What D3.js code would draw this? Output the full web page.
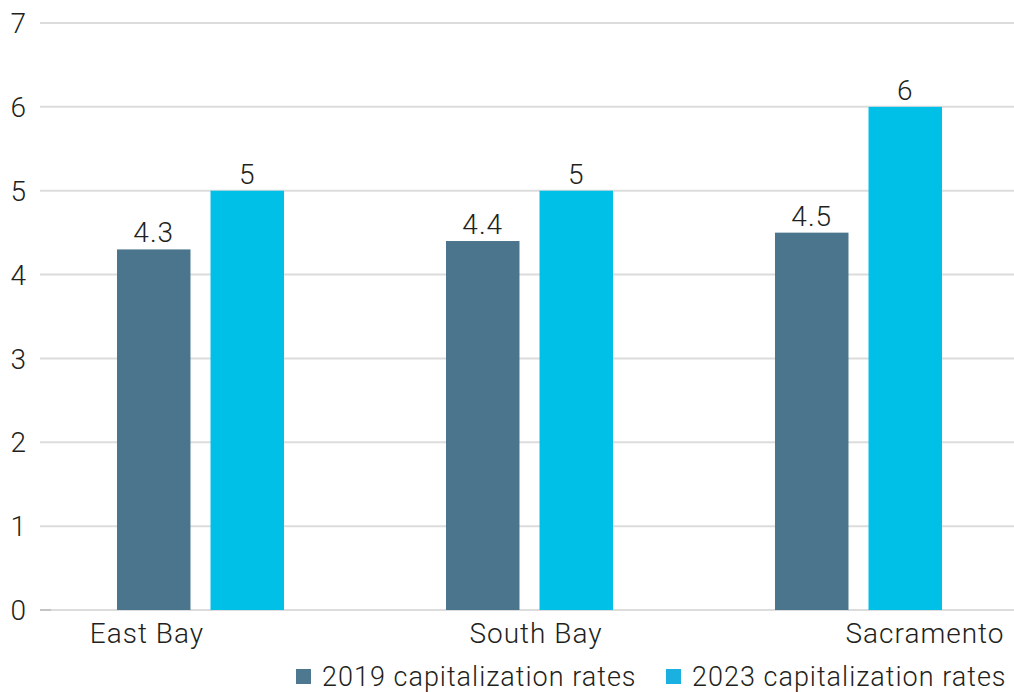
<!DOCTYPE html>
<html>
<head>
<meta charset="utf-8">
<script src="https://cdn.jsdelivr.net/npm/d3@7"></script>
<style>
  body { margin: 0; background: #fff; }
  svg text { font-family: Roboto, "Noto Sans", sans-serif; font-weight: 300; fill: #231f20; letter-spacing: 1px; }
</style>
</head>
<body>
<svg id="chart" width="1014" height="692"></svg>
<script>
// Data
var categories = ["East Bay", "South Bay", "Sacramento"];
var seriesNames = ["2019 capitalization rates", "2023 capitalization rates"];
var rates2019 = [4.3, 4.4, 4.5];
var rates2023 = [5, 5, 6];
var yTicks = [0, 1, 2, 3, 4, 5, 6, 7];
var colors = ["#4a758c", "#00c0e8"];
var legendColors = ["#4e7890", "#1ab0e0"];

var svg = d3.select("#chart"),
  width = +svg.attr("width"),
  height = +svg.attr("height");

var gridLeft = 40;

// scales
var x0 = d3.scaleBand()
  .domain(categories)
  .range([36, 1023]);

var x1 = d3.scaleBand()
  .domain(seriesNames)
  .range([0, x0.bandwidth()])
  .paddingInner(0.214)
  .paddingOuter(0.866);

var y = d3.scaleLinear()
  .domain([0, 7])
  .range([610, 23]);

// label positions for the categories (they sit off-centre in the picture)
var xLabel = d3.scalePoint()
  .domain(categories)
  .range([147, 925]);

// gridlines
svg.append("g")
  .selectAll("line")
  .data(yTicks)
  .enter()
  .append("line")
    .attr("x1", gridLeft)
    .attr("x2", width)
    .attr("y1", function(d) { return y(d); })
    .attr("y2", function(d) { return y(d); })
    .attr("stroke", "#dcdcdc")
    .attr("stroke-width", 2);

// small stub at the zero line
svg.append("line")
  .attr("x1", gridLeft).attr("x2", gridLeft + 11)
  .attr("y1", y(0)).attr("y2", y(0))
  .attr("stroke", "#c4c4c4")
  .attr("stroke-width", 2);

// y tick labels
svg.append("g")
  .selectAll("text")
  .data(yTicks)
  .enter()
  .append("text")
    .attr("x", 27)
    .attr("y", function(d) { return y(d); })
    .attr("dy", "0.36em")
    .attr("text-anchor", "end")
    .style("font-size", "28px")
    .text(function(d) { return d; });

// bars
var rows = categories.map(function(c, i) {
  return { cat: c, values: [rates2019[i], rates2023[i]] };
});

var groups = svg.append("g")
  .selectAll("g")
  .data(rows)
  .enter()
  .append("g")
    .attr("transform", function(d) { return "translate(" + x0(d.cat) + ",0)"; });

var bars = groups.selectAll("g")
  .data(function(d) {
    return d.values.map(function(v, j) { return { key: seriesNames[j], value: v, idx: j }; });
  })
  .enter()
  .append("g");

bars.append("rect")
  .attr("x", function(d) { return x1(d.key); })
  .attr("width", x1.bandwidth())
  .attr("y", function(d) { return y(d.value); })
  .attr("height", function(d) { return y(0) - y(d.value); })
  .attr("fill", function(d) { return colors[d.idx]; });

bars.append("text")
  .attr("x", function(d) { return x1(d.key) + x1.bandwidth() / 2; })
  .attr("y", function(d) { return y(d.value) - 7; })
  .attr("text-anchor", "middle")
  .style("font-size", "28px")
  .text(function(d) { return d.value; });

// category labels
svg.append("g")
  .selectAll("text")
  .data(categories)
  .enter()
  .append("text")
    .attr("x", function(d) { return xLabel(d); })
    .attr("y", 643)
    .attr("text-anchor", "middle")
    .style("font-size", "28px")
    .text(function(d) { return d; });

// legend
var legendX = [296, 666];
var legend = svg.append("g")
  .selectAll("g")
  .data(seriesNames)
  .enter()
  .append("g")
    .attr("transform", function(d, i) { return "translate(" + legendX[i] + ",669)"; });

legend.append("rect")
  .attr("width", 15)
  .attr("height", 15)
  .attr("fill", function(d, i) { return legendColors[i]; });

legend.append("text")
  .attr("x", 26)
  .attr("y", 17)
  .style("font-size", "27px")
  .text(function(d) { return d; });
</script>
</body>
</html>
